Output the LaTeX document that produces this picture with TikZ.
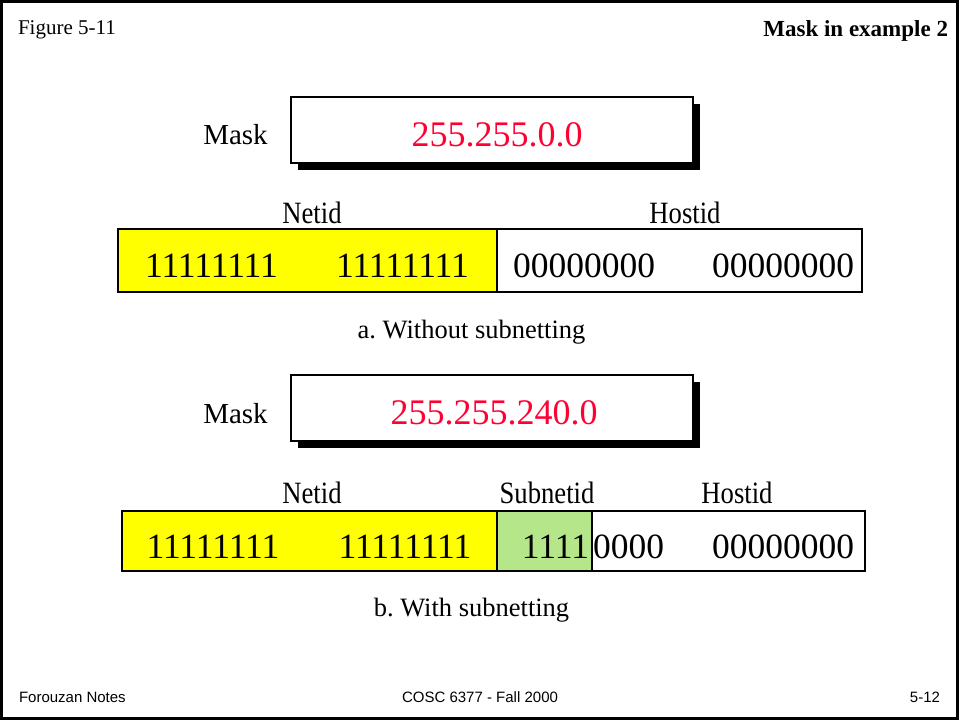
\documentclass[tikz,border=0pt]{standalone}
\usepackage{fontspec}
\setmainfont{Liberation Serif}
\newfontfamily\footfont{Liberation Sans}
\newfontfamily\narrowserif[FakeStretch=0.86]{Liberation Serif}
\frenchspacing
\definecolor{maskred}{RGB}{255,0,51}
\definecolor{netyellow}{RGB}{255,255,0}
\definecolor{subgreen}{RGB}{181,230,137}
\begin{document}
\begin{tikzpicture}[x=1pt,y=-1pt,
  fs/.style={font=\fontsize{#1}{#1}\selectfont},
  plain/.style={inner sep=0pt,outer sep=0pt,anchor=base},
  maskbox/.style={draw=black,line width=1.5pt,fill=white,minimum width=402pt,minimum height=66pt,inner sep=0pt},
  shadowbox/.style={fill=black,minimum width=402pt,minimum height=66pt,inner sep=0pt,draw=none},
  rowline/.style={line width=2pt},
  bits/.style={plain,fs=35.5},
  lbl/.style={plain,fs=29},
  fieldlbl/.style={plain,font=\narrowserif\fontsize{31}{31}\selectfont},
  captext/.style={plain,fs=26.5},
  foot/.style={plain,font=\footfont\fontsize{15}{15}\selectfont}]
\useasboundingbox (0,0) rectangle (960,721);
\fill[white] (0,0) rectangle (960,721);
\draw[line width=2.5pt] (1.5,1.5) rectangle (957.5,718.5);

% header
\node[plain,fs=21,anchor=base west] (fig) at (18,34) {Figure 5-11};
\node[plain,anchor=base east,font=\bfseries\fontsize{23}{23}\selectfont] (title) at (948,36) {Mask in example 2};

% mask a
\node[shadowbox] (shA) at (499,137) {};
\node[maskbox] (maskA) at (492,130) {};
\node[plain,fs=36,text=maskred] (valA) at (497,146) {255.255.0.0};
\node[lbl] (mA) at (235.5,144) {Mask};

% row a
\coordinate (a1) at (118,229);
\coordinate (a2) at (497,292);
\coordinate (a3) at (862,292);
\fill[netyellow] (a1) rectangle (a2);
\draw[rowline] (a1) rectangle (a3);
\draw[rowline] (a2 |- a1) -- (a2);
\node[fieldlbl] (netA) at (312,223) {Netid};
\node[fieldlbl] (hostA) at (685,223) {Hostid};
\node[bits] (bA1) at (211.5,277) {11111111};
\node[bits] (bA2) at (402.5,277) {11111111};
\node[bits] (bA3) at (584,277) {00000000};
\node[bits] (bA4) at (783,277) {00000000};
\node[captext] (capA) at (471.5,338) {a. Without subnetting};

% mask b
\node[shadowbox] (shB) at (499,415) {};
\node[maskbox] (maskB) at (492,408) {};
\node[plain,fs=36,text=maskred] (valB) at (494,424) {255.255.240.0};
\node[lbl] (mB) at (235.5,423) {Mask};

% row b
\coordinate (b1) at (122,511);
\coordinate (b2) at (497,571);
\coordinate (b3) at (592,571);
\coordinate (b4) at (865,571);
\fill[netyellow] (b1) rectangle (b2);
\fill[subgreen] (b2 |- b1) rectangle (b3);
\draw[rowline] (b1) rectangle (b4);
\draw[rowline] (b2 |- b1) -- (b2);
\draw[rowline] (b3 |- b1) -- (b3);
\node[fieldlbl] (netB) at (312,503) {Netid};
\node[fieldlbl] (subB) at (547,503) {Subnetid};
\node[fieldlbl] (hostB) at (737,503) {Hostid};
\node[bits] (bB1) at (213,558) {11111111};
\node[bits] (bB2) at (405,558) {11111111};
\node[bits,anchor=base east] (bB3) at (589,558) {1111};
\node[bits,anchor=base west] (bB4) at (593,558) {0000};
\node[bits] (bB5) at (783,558) {00000000};
\node[captext] (capB) at (471.5,616) {b. With subnetting};

% footer
\node[foot,anchor=base west] (f1) at (19,702) {Forouzan Notes};
\node[foot] (f2) at (480,702) {COSC 6377 - Fall 2000};
\node[foot,anchor=base east] (f3) at (940,702) {5-12};
\end{tikzpicture}
\end{document}
